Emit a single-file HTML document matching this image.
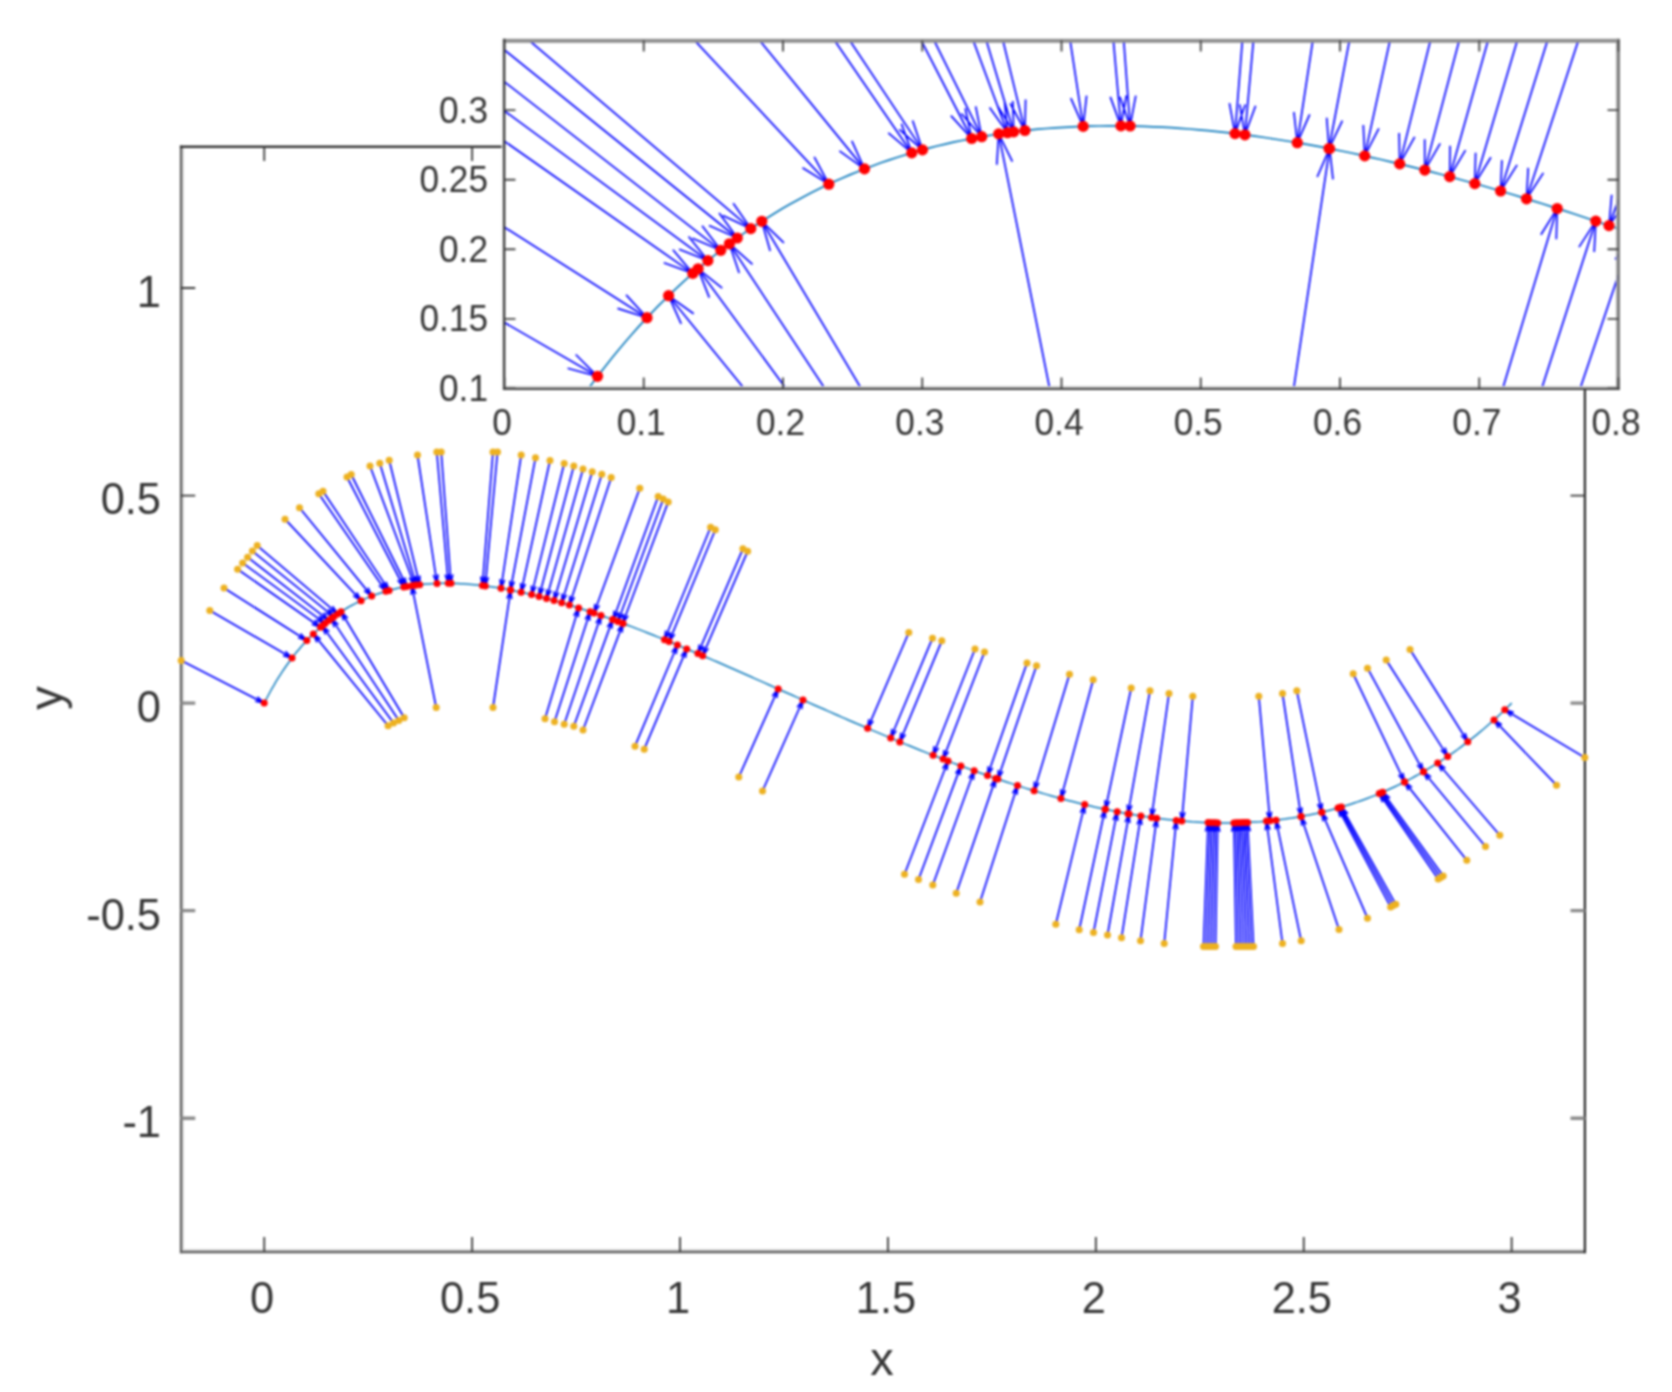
<!DOCTYPE html>
<html lang="en"><head><meta charset="utf-8"><title>Projection of points onto a curve</title>
<style>html,body{margin:0;padding:0;background:#fff}body{width:1672px;height:1392px;overflow:hidden}svg{display:block;filter:blur(0.85px)}text{font-family:'Liberation Sans',Arial,Helvetica,sans-serif;fill:#363636}</style></head><body>
<svg width="1672" height="1392" viewBox="0 0 1672 1392">
<rect width="1672" height="1392" fill="#fff"/>
<defs><clipPath id="cm"><rect x="180.75" y="146.50" width="1404.25" height="1105.00"/></clipPath><clipPath id="ci"><rect x="504.50" y="40.50" width="1114.00" height="348.00"/></clipPath></defs>
<g>
<rect x="182.10" y="147.90" width="1.80" height="1103.10" fill="#d4d4d4"/>
<rect x="182.10" y="1249.00" width="1401.70" height="2.00" fill="#d4d4d4"/>
<rect x="179.90" y="145.60" width="2.20" height="1107.60" fill="#5a5a5a"/>
<rect x="179.90" y="1251.00" width="1406.10" height="2.20" fill="#5a5a5a"/>
<rect x="179.90" y="145.60" width="1406.10" height="2.30" fill="#262626"/>
<rect x="1583.80" y="145.60" width="2.20" height="1107.60" fill="#262626"/>
</g>
<path d="M264.25 1251.50v-14.5M264.25 146.50v14.5M472.15 1251.50v-14.5M472.15 146.50v14.5M680.05 1251.50v-14.5M680.05 146.50v14.5M887.95 1251.50v-14.5M887.95 146.50v14.5M1095.85 1251.50v-14.5M1095.85 146.50v14.5M1303.75 1251.50v-14.5M1303.75 146.50v14.5M1511.65 1251.50v-14.5M1511.65 146.50v14.5M180.75 495.55h14.5M1585.00 495.55h-14.5M180.75 288.00h14.5M1585.00 288.00h-14.5" stroke="#3a3a3a" stroke-width="1.8" fill="none"/>
<path d="M180.75 1118.20h14.5M1585.00 1118.20h-14.5M180.75 910.65h14.5M1585.00 910.65h-14.5M180.75 703.10h14.5M1585.00 703.10h-14.5" stroke="#8a8a8a" stroke-width="3.4" fill="none"/>
<g clip-path="url(#cm)" fill="none">
<path d="M264.2 703.1L265.8 700.0L267.4 697.0L269.0 694.0L270.6 691.0L272.2 688.1L273.9 685.3L275.5 682.4L277.2 679.7L278.9 676.9L280.6 674.3L282.3 671.6L284.1 669.0L285.8 666.5L287.6 664.0L289.4 661.5L291.2 659.1L293.0 656.7L294.8 654.4L296.6 652.1L298.5 649.9L300.3 647.7L302.2 645.5L304.1 643.4L306.0 641.3L308.0 639.3L309.9 637.3L311.8 635.3L313.8 633.4L315.8 631.5L317.8 629.7L319.8 627.9L321.8 626.1L323.8 624.4L325.9 622.7L328.0 621.1L330.0 619.5L332.1 617.9L334.2 616.4L336.3 614.9L338.5 613.4L340.6 612.0L342.8 610.6L344.9 609.3L347.1 608.0L349.3 606.7L351.5 605.5L353.7 604.3L356.0 603.2L358.2 602.0L360.5 600.9L362.8 599.9L365.0 598.9L367.3 597.9L369.6 596.9L372.0 596.0L374.3 595.1L376.7 594.3L379.0 593.5L381.4 592.7L383.8 592.0L386.2 591.2L388.6 590.6L391.0 589.9L393.4 589.3L395.9 588.7L398.3 588.1L400.8 587.6L403.3 587.1L405.8 586.7L408.3 586.2L410.8 585.8L413.3 585.5L415.8 585.1L418.4 584.8L420.9 584.5L423.5 584.3L426.1 584.1L428.7 583.9L431.3 583.7L433.9 583.6L436.5 583.4L439.2 583.4L441.8 583.3L444.5 583.3L447.1 583.3L449.8 583.3L452.5 583.4L455.2 583.4L457.9 583.5L460.6 583.7L463.4 583.8L466.1 584.0L468.9 584.2L471.6 584.4L474.4 584.7L477.2 585.0L480.0 585.3L482.8 585.6L485.6 586.0L488.4 586.4L491.2 586.8L494.1 587.2L496.9 587.6L499.8 588.1L502.6 588.6L505.5 589.1L508.4 589.6L511.3 590.2L514.2 590.8L517.1 591.4L520.1 592.0L523.0 592.6L525.9 593.3L528.9 594.0L531.8 594.7L534.8 595.4L537.8 596.2L540.8 596.9L543.8 597.7L546.8 598.5L549.8 599.3L552.8 600.2L555.9 601.0L558.9 601.9L561.9 602.8L565.0 603.7L568.1 604.6L571.1 605.5L574.2 606.5L577.3 607.5L580.4 608.5L583.5 609.5L586.6 610.5L589.7 611.6L592.9 612.6L596.0 613.7L599.1 614.8L602.3 615.9L605.4 617.0L608.6 618.1L611.8 619.3L615.0 620.4L618.2 621.6L621.3 622.8L624.5 624.0L627.8 625.2L631.0 626.4L634.2 627.6L637.4 628.9L640.7 630.1L643.9 631.4L647.2 632.7L650.4 634.0L653.7 635.3L656.9 636.6L660.2 637.9L663.5 639.3L666.8 640.6L670.1 642.0L673.4 643.3L676.7 644.7L680.0 646.1L683.3 647.5L686.7 648.9L690.0 650.3L693.3 651.7L696.7 653.1L700.0 654.6L703.4 656.0L706.8 657.5L710.1 658.9L713.5 660.4L716.9 661.8L720.3 663.3L723.7 664.8L727.0 666.3L730.4 667.8L733.9 669.3L737.3 670.8L740.7 672.3L744.1 673.8L747.5 675.3L751.0 676.8L754.4 678.4L757.8 679.9L761.3 681.4L764.7 682.9L768.2 684.5L771.6 686.0L775.1 687.6L778.6 689.1L782.1 690.7L785.5 692.2L789.0 693.8L792.5 695.3L796.0 696.9L799.5 698.4L803.0 700.0L806.5 701.5L810.0 703.1L813.5 704.7L817.0 706.2L820.5 707.8L824.1 709.3L827.6 710.9L831.1 712.4L834.6 714.0L838.2 715.5L841.7 717.1L845.3 718.6L848.8 720.2L852.4 721.7L855.9 723.3L859.5 724.8L863.0 726.3L866.6 727.8L870.1 729.4L873.7 730.9L877.3 732.4L880.9 733.9L884.4 735.4L888.0 736.9L891.6 738.4L895.2 739.9L898.8 741.4L902.3 742.9L905.9 744.4L909.5 745.8L913.1 747.3L916.7 748.7L920.3 750.2L923.9 751.6L927.5 753.1L931.1 754.5L934.7 755.9L938.4 757.3L942.0 758.7L945.6 760.1L949.2 761.5L952.8 762.9L956.4 764.2L960.1 765.6L963.7 766.9L967.3 768.3L970.9 769.6L974.5 770.9L978.2 772.2L981.8 773.5L985.4 774.8L989.1 776.1L992.7 777.3L996.3 778.6L1000.0 779.8L1003.6 781.0L1007.2 782.2L1010.9 783.4L1014.5 784.6L1018.1 785.8L1021.8 786.9L1025.4 788.1L1029.0 789.2L1032.7 790.3L1036.3 791.4L1039.9 792.5L1043.6 793.6L1047.2 794.6L1050.9 795.7L1054.5 796.7L1058.1 797.7L1061.8 798.7L1065.4 799.7L1069.1 800.7L1072.7 801.6L1076.3 802.5L1080.0 803.4L1083.6 804.3L1087.2 805.2L1090.9 806.0L1094.5 806.9L1098.1 807.7L1101.8 808.5L1105.4 809.3L1109.0 810.0L1112.7 810.8L1116.3 811.5L1119.9 812.2L1123.5 812.9L1127.2 813.6L1130.8 814.2L1134.4 814.8L1138.0 815.4L1141.7 816.0L1145.3 816.6L1148.9 817.1L1152.5 817.6L1156.1 818.1L1159.7 818.6L1163.3 819.0L1167.0 819.4L1170.6 819.8L1174.2 820.2L1177.8 820.6L1181.4 820.9L1185.0 821.2L1188.6 821.5L1192.2 821.8L1195.8 822.0L1199.3 822.2L1202.9 822.4L1206.5 822.5L1210.1 822.7L1213.7 822.8L1217.3 822.8L1220.8 822.9L1224.4 822.9L1228.0 822.9L1231.5 822.9L1235.1 822.8L1238.7 822.8L1242.2 822.6L1245.8 822.5L1249.3 822.3L1252.9 822.1L1256.4 821.9L1259.9 821.7L1263.5 821.4L1267.0 821.1L1270.5 820.7L1274.1 820.4L1277.6 820.0L1281.1 819.5L1284.6 819.1L1288.1 818.6L1291.7 818.1L1295.2 817.5L1298.7 816.9L1302.1 816.3L1305.6 815.6L1309.1 815.0L1312.6 814.2L1316.1 813.5L1319.6 812.7L1323.0 811.9L1326.5 811.1L1330.0 810.2L1333.4 809.3L1336.9 808.3L1340.3 807.3L1343.8 806.3L1347.2 805.3L1350.6 804.2L1354.1 803.0L1357.5 801.9L1360.9 800.7L1364.3 799.5L1367.7 798.2L1371.1 796.9L1374.5 795.6L1377.9 794.2L1381.3 792.8L1384.7 791.3L1388.1 789.8L1391.4 788.3L1394.8 786.7L1398.1 785.1L1401.5 783.5L1404.8 781.8L1408.2 780.1L1411.5 778.3L1414.8 776.5L1418.2 774.7L1421.5 772.8L1424.8 770.9L1428.1 768.9L1431.4 766.9L1434.7 764.9L1438.0 762.8L1441.3 760.7L1444.5 758.5L1447.8 756.3L1451.1 754.1L1454.3 751.8L1457.6 749.5L1460.8 747.1L1464.0 744.7L1467.3 742.2L1470.5 739.7L1473.7 737.2L1476.9 734.6L1480.1 731.9L1483.3 729.3L1486.5 726.5L1489.6 723.8L1492.8 720.9L1496.0 718.1L1499.1 715.2L1502.3 712.2L1505.4 709.2L1508.5 706.2L1511.7 703.1" stroke="#0a78bb" stroke-width="1.5"/>
<path d="M209.8 610.5L292.0 658.0M283.1 655.6L292.0 658.0L285.5 651.4M224.0 588.0L306.8 640.5M298.0 637.7L306.8 640.5L300.5 633.7M237.6 569.2L320.5 627.3M311.8 624.1L320.5 627.3L314.5 620.2M242.6 562.9L325.0 623.4M316.4 620.1L325.0 623.4L319.2 616.2M247.6 557.2L328.8 620.4M320.3 616.8L328.8 620.4L323.3 613.0M252.4 551.1L333.8 616.7M325.3 613.0L333.8 616.7L328.3 609.3M257.2 545.6L337.8 613.9M329.4 610.0L337.8 613.9L332.5 606.3M285.0 519.2L361.1 600.7M353.2 595.8L361.1 600.7L356.7 592.5M299.5 507.8L371.7 596.1M364.2 590.7L371.7 596.1L368.0 587.7M318.8 493.8L385.9 591.3M378.9 585.3L385.9 591.3L382.8 582.6M323.0 491.2L389.1 590.4M382.1 584.3L389.1 590.4L386.1 581.7M347.0 477.0L403.8 587.0M397.6 580.2L403.8 587.0L401.8 578.0M351.2 474.5L406.8 586.5M400.7 579.6L406.8 586.5L404.9 577.5M370.0 466.0L414.5 585.3M409.1 577.8L414.5 585.3L413.6 576.1M379.8 463.2L416.3 585.1M411.4 577.2L416.3 585.1L416.0 575.9M389.2 460.2L419.7 584.7M415.2 576.6L419.7 584.7L419.9 575.5M417.5 455.0L437.0 583.4M433.3 575.0L437.0 583.4L438.1 574.3M436.8 452.0L448.3 583.3M445.1 574.6L448.3 583.3L449.9 574.2M441.2 452.0L451.0 583.3M448.0 574.6L451.0 583.3L452.8 574.3M493.0 452.0L482.4 585.6M480.7 576.5L482.4 585.6L485.5 576.9M497.5 452.0L485.3 585.9M483.8 576.9L485.3 585.9L488.5 577.3M521.2 455.0L501.0 588.3M500.0 579.1L501.0 588.3L504.7 579.9M535.5 457.8L510.4 590.0M509.7 580.8L510.4 590.0L514.4 581.7M550.0 460.5L521.1 592.2M520.7 583.0L521.1 592.2L525.4 584.0M564.2 463.5L531.6 594.6M531.4 585.4L531.6 594.6L536.0 586.6M573.8 466.0L539.1 596.5M539.0 587.3L539.1 596.5L543.6 588.5M583.0 469.0L546.5 598.4M546.6 589.2L546.5 598.4L551.2 590.5M592.2 471.8L554.0 600.5M554.2 591.3L554.0 600.5L558.8 592.6M601.8 474.2L561.7 602.7M562.1 593.5L561.7 602.7L566.6 594.9M611.2 477.5L569.4 605.0M569.9 595.8L569.4 605.0L574.5 597.3M639.8 488.2L594.0 613.0M594.9 603.8L594.0 613.0L599.4 605.5M658.2 496.5L613.2 619.8M614.1 610.6L613.2 619.8L618.5 612.2M663.2 499.1L617.9 621.5M618.7 612.3L617.9 621.5L623.2 614.0M668.2 501.9L622.7 623.3M623.6 614.1L622.7 623.3L628.1 615.8M710.6 527.2L664.5 639.7M665.7 630.5L664.5 639.7L670.1 632.3M715.3 529.7L669.1 641.6M670.3 632.4L669.1 641.6L674.7 634.2M742.9 548.8L697.9 653.6M699.2 644.5L697.9 653.6L703.6 646.4M747.6 551.3L702.6 655.7M703.9 646.5L702.6 655.7L708.3 648.4M908.8 632.5L867.6 728.3M868.9 719.2L867.6 728.3L873.3 721.0M932.5 638.2L890.7 738.0M891.9 728.9L890.7 738.0L896.3 730.8M941.8 640.8L899.8 741.9M901.0 732.7L899.8 741.9L905.5 734.5M975.0 649.0L933.1 755.3M934.1 746.1L933.1 755.3L938.6 747.9M984.5 652.0L943.1 759.1M944.0 750.0L943.1 759.1L948.5 751.7M1027.0 663.0L987.5 775.5M988.2 766.3L987.5 775.5L992.7 767.9M1036.5 665.8L997.8 779.1M998.4 769.9L997.8 779.1L1002.9 771.4M1069.5 674.2L1034.1 790.8M1034.4 781.5L1034.1 790.8L1038.9 782.9M1093.2 679.8L1060.9 798.5M1060.9 789.3L1060.9 798.5L1065.5 790.5M1131.2 688.0L1105.4 809.3M1104.9 800.1L1105.4 809.3L1109.6 801.1M1150.0 690.8L1128.0 813.7M1127.2 804.5L1128.0 813.7L1131.9 805.4M1169.0 693.5L1151.5 817.5M1150.4 808.3L1151.5 817.5L1155.1 809.0M1192.8 696.2L1181.8 820.9M1180.2 811.9L1181.8 820.9L1185.0 812.3M1258.8 696.2L1270.0 820.8M1266.8 812.1L1270.0 820.8L1271.6 811.7M1282.5 693.5L1301.1 816.5M1297.4 808.0L1301.1 816.5L1302.1 807.3M1296.8 690.8L1321.8 812.2M1317.6 804.0L1321.8 812.2L1322.3 803.0M1353.2 673.8L1404.6 781.9M1398.6 774.9L1404.6 781.9L1402.9 772.9M1367.5 668.2L1423.5 771.7M1417.1 765.0L1423.5 771.7L1421.3 762.7M1386.2 660.0L1447.7 756.4M1440.9 750.2L1447.7 756.4L1445.0 747.6M1410.0 649.5L1467.8 741.8M1461.0 735.5L1467.8 741.8L1465.1 733.0M388.1 725.8L313.3 633.9M320.7 639.3L313.3 633.9L317.0 642.3M393.5 723.1L322.1 625.9M329.3 631.7L322.1 625.9L325.4 634.5M398.8 720.5L331.4 618.4M338.3 624.6L331.4 618.4L334.3 627.2M404.2 717.8L341.1 611.7M347.7 618.2L341.1 611.7L343.6 620.6M436.2 707.5L411.8 585.7M415.9 593.9L411.8 585.7L411.2 594.9M493.0 707.5L510.6 590.1M511.7 599.2L510.6 590.1L506.9 598.5M545.0 718.8L578.6 607.9M578.3 617.1L578.6 607.9L573.7 615.7M554.5 721.8L590.1 611.7M589.6 620.9L590.1 611.7L585.1 619.4M564.2 724.2L601.0 615.4M600.4 624.6L601.0 615.4L595.9 623.1M573.8 726.2L612.6 619.6M611.8 628.7L612.6 619.6L607.3 627.1M583.0 730.0L623.0 623.4M622.1 632.6L623.0 623.4L617.6 630.9M635.0 746.2L677.4 645.0M676.1 654.1L677.4 645.0L671.7 652.3M644.2 749.2L686.7 648.9M685.5 658.0L686.7 648.9L681.1 656.2M738.8 777.0L778.2 688.9M776.7 698.0L778.2 688.9L772.3 696.1M762.5 791.0L803.0 700.0M801.6 709.1L803.0 700.0L797.2 707.2M904.5 874.2L948.0 761.0M947.0 770.2L948.0 761.0L942.5 768.5M918.5 879.5L960.9 765.9M960.0 775.1L960.9 765.9L955.6 773.4M932.8 885.0L974.2 770.8M973.4 780.0L974.2 770.8L968.9 778.3M956.2 893.2L995.7 778.4M995.1 787.6L995.7 778.4L990.6 786.0M980.0 902.0L1017.5 785.6M1017.0 794.8L1017.5 785.6L1012.5 793.3M1055.8 924.2L1084.7 804.6M1084.9 813.8L1084.7 804.6L1080.3 812.7M1079.2 929.8L1105.0 809.2M1105.5 818.4L1105.0 809.2L1100.8 817.4M1093.5 932.5L1117.2 811.7M1117.8 820.9L1117.2 811.7L1113.1 820.0M1107.5 935.0L1129.1 813.9M1129.8 823.1L1129.1 813.9L1125.1 822.2M1121.5 937.8L1140.9 815.9M1141.8 825.0L1140.9 815.9L1137.1 824.3M1140.5 940.8L1156.7 818.2M1157.9 827.3L1156.7 818.2L1153.2 826.7M1164.2 943.5L1176.3 820.4M1177.8 829.5L1176.3 820.4L1173.1 829.1M1203.5 946.5L1208.1 822.6M1210.1 831.6L1208.1 822.6L1205.4 831.4M1206.5 946.5L1210.5 822.7M1212.6 831.7L1210.5 822.7L1207.8 831.5M1209.5 946.5L1212.9 822.7M1215.0 831.7L1212.9 822.7L1210.3 831.6M1212.5 946.5L1215.3 822.8M1217.5 831.8L1215.3 822.8L1212.7 831.7M1215.5 946.5L1217.7 822.9M1219.9 831.8L1217.7 822.9L1215.1 831.7M1236.0 946.5L1233.9 822.9M1236.4 831.7L1233.9 822.9L1231.6 831.8M1238.9 946.5L1236.2 822.8M1238.8 831.7L1236.2 822.8L1234.0 831.8M1241.8 946.5L1238.5 822.8M1241.1 831.6L1238.5 822.8L1236.4 831.7M1244.8 946.5L1240.8 822.7M1243.5 831.5L1240.8 822.7L1238.7 831.7M1247.7 946.5L1243.1 822.6M1245.8 831.4L1243.1 822.6L1241.0 831.6M1250.6 946.5L1245.3 822.5M1248.1 831.3L1245.3 822.5L1243.3 831.5M1253.5 946.5L1247.6 822.4M1250.4 831.2L1247.6 822.4L1245.6 831.4M1282.5 943.5L1266.5 821.1M1270.0 829.6L1266.5 821.1L1265.3 830.3M1301.2 940.8L1276.0 820.2M1280.1 828.4L1276.0 820.2L1275.5 829.4M1339.0 929.5L1301.1 816.5M1306.2 824.2L1301.1 816.5L1301.7 825.7M1367.5 918.2L1321.8 812.2M1327.5 819.4L1321.8 812.2L1323.1 821.3M1390.6 906.9L1338.0 808.0M1344.3 814.7L1338.0 808.0L1340.0 817.0M1393.2 905.6L1339.7 807.5M1346.1 814.2L1339.7 807.5L1341.9 816.5M1395.8 904.3L1341.4 807.0M1347.9 813.6L1341.4 807.0L1343.7 815.9M1438.2 879.1L1379.3 793.6M1386.4 799.6L1379.3 793.6L1382.4 802.3M1440.7 877.6L1381.0 792.9M1388.1 798.8L1381.0 792.9L1384.2 801.5M1443.2 876.1L1382.7 792.2M1389.9 798.0L1382.7 792.2L1386.0 800.8M1466.8 860.2L1404.6 781.9M1412.0 787.4L1404.6 781.9L1408.2 790.4M1485.5 846.5L1423.5 771.7M1431.0 777.0L1423.5 771.7L1427.3 780.1M1499.8 835.2L1437.7 763.0M1445.3 768.2L1437.7 763.0L1441.7 771.3M181.2 660.5L264.2 703.1M255.2 701.2L264.2 703.1L257.4 696.9M1556.5 785.2L1494.0 719.9M1501.9 724.7L1494.0 719.9L1498.4 728.0M1584.8 757.5L1504.8 709.8M1513.7 712.4L1504.8 709.8L1511.2 716.4" stroke="#0000ff" stroke-width="1.7"/>
</g>
<g fill="#edb120"><circle cx="209.8" cy="610.5" r="3.5"/><circle cx="224.0" cy="588.0" r="3.5"/><circle cx="237.6" cy="569.2" r="3.5"/><circle cx="242.6" cy="562.9" r="3.5"/><circle cx="247.6" cy="557.2" r="3.5"/><circle cx="252.4" cy="551.1" r="3.5"/><circle cx="257.2" cy="545.6" r="3.5"/><circle cx="285.0" cy="519.2" r="3.5"/><circle cx="299.5" cy="507.8" r="3.5"/><circle cx="318.8" cy="493.8" r="3.5"/><circle cx="323.0" cy="491.2" r="3.5"/><circle cx="347.0" cy="477.0" r="3.5"/><circle cx="351.2" cy="474.5" r="3.5"/><circle cx="370.0" cy="466.0" r="3.5"/><circle cx="379.8" cy="463.2" r="3.5"/><circle cx="389.2" cy="460.2" r="3.5"/><circle cx="417.5" cy="455.0" r="3.5"/><circle cx="436.8" cy="452.0" r="3.5"/><circle cx="441.2" cy="452.0" r="3.5"/><circle cx="493.0" cy="452.0" r="3.5"/><circle cx="497.5" cy="452.0" r="3.5"/><circle cx="521.2" cy="455.0" r="3.5"/><circle cx="535.5" cy="457.8" r="3.5"/><circle cx="550.0" cy="460.5" r="3.5"/><circle cx="564.2" cy="463.5" r="3.5"/><circle cx="573.8" cy="466.0" r="3.5"/><circle cx="583.0" cy="469.0" r="3.5"/><circle cx="592.2" cy="471.8" r="3.5"/><circle cx="601.8" cy="474.2" r="3.5"/><circle cx="611.2" cy="477.5" r="3.5"/><circle cx="639.8" cy="488.2" r="3.5"/><circle cx="658.2" cy="496.5" r="3.5"/><circle cx="663.2" cy="499.1" r="3.5"/><circle cx="668.2" cy="501.9" r="3.5"/><circle cx="710.6" cy="527.2" r="3.5"/><circle cx="715.3" cy="529.7" r="3.5"/><circle cx="742.9" cy="548.8" r="3.5"/><circle cx="747.6" cy="551.3" r="3.5"/><circle cx="908.8" cy="632.5" r="3.5"/><circle cx="932.5" cy="638.2" r="3.5"/><circle cx="941.8" cy="640.8" r="3.5"/><circle cx="975.0" cy="649.0" r="3.5"/><circle cx="984.5" cy="652.0" r="3.5"/><circle cx="1027.0" cy="663.0" r="3.5"/><circle cx="1036.5" cy="665.8" r="3.5"/><circle cx="1069.5" cy="674.2" r="3.5"/><circle cx="1093.2" cy="679.8" r="3.5"/><circle cx="1131.2" cy="688.0" r="3.5"/><circle cx="1150.0" cy="690.8" r="3.5"/><circle cx="1169.0" cy="693.5" r="3.5"/><circle cx="1192.8" cy="696.2" r="3.5"/><circle cx="1258.8" cy="696.2" r="3.5"/><circle cx="1282.5" cy="693.5" r="3.5"/><circle cx="1296.8" cy="690.8" r="3.5"/><circle cx="1353.2" cy="673.8" r="3.5"/><circle cx="1367.5" cy="668.2" r="3.5"/><circle cx="1386.2" cy="660.0" r="3.5"/><circle cx="1410.0" cy="649.5" r="3.5"/><circle cx="388.1" cy="725.8" r="3.5"/><circle cx="393.5" cy="723.1" r="3.5"/><circle cx="398.8" cy="720.5" r="3.5"/><circle cx="404.2" cy="717.8" r="3.5"/><circle cx="436.2" cy="707.5" r="3.5"/><circle cx="493.0" cy="707.5" r="3.5"/><circle cx="545.0" cy="718.8" r="3.5"/><circle cx="554.5" cy="721.8" r="3.5"/><circle cx="564.2" cy="724.2" r="3.5"/><circle cx="573.8" cy="726.2" r="3.5"/><circle cx="583.0" cy="730.0" r="3.5"/><circle cx="635.0" cy="746.2" r="3.5"/><circle cx="644.2" cy="749.2" r="3.5"/><circle cx="738.8" cy="777.0" r="3.5"/><circle cx="762.5" cy="791.0" r="3.5"/><circle cx="904.5" cy="874.2" r="3.5"/><circle cx="918.5" cy="879.5" r="3.5"/><circle cx="932.8" cy="885.0" r="3.5"/><circle cx="956.2" cy="893.2" r="3.5"/><circle cx="980.0" cy="902.0" r="3.5"/><circle cx="1055.8" cy="924.2" r="3.5"/><circle cx="1079.2" cy="929.8" r="3.5"/><circle cx="1093.5" cy="932.5" r="3.5"/><circle cx="1107.5" cy="935.0" r="3.5"/><circle cx="1121.5" cy="937.8" r="3.5"/><circle cx="1140.5" cy="940.8" r="3.5"/><circle cx="1164.2" cy="943.5" r="3.5"/><circle cx="1203.5" cy="946.5" r="3.5"/><circle cx="1206.5" cy="946.5" r="3.5"/><circle cx="1209.5" cy="946.5" r="3.5"/><circle cx="1212.5" cy="946.5" r="3.5"/><circle cx="1215.5" cy="946.5" r="3.5"/><circle cx="1236.0" cy="946.5" r="3.5"/><circle cx="1238.9" cy="946.5" r="3.5"/><circle cx="1241.8" cy="946.5" r="3.5"/><circle cx="1244.8" cy="946.5" r="3.5"/><circle cx="1247.7" cy="946.5" r="3.5"/><circle cx="1250.6" cy="946.5" r="3.5"/><circle cx="1253.5" cy="946.5" r="3.5"/><circle cx="1282.5" cy="943.5" r="3.5"/><circle cx="1301.2" cy="940.8" r="3.5"/><circle cx="1339.0" cy="929.5" r="3.5"/><circle cx="1367.5" cy="918.2" r="3.5"/><circle cx="1390.6" cy="906.9" r="3.5"/><circle cx="1393.2" cy="905.6" r="3.5"/><circle cx="1395.8" cy="904.3" r="3.5"/><circle cx="1438.2" cy="879.1" r="3.5"/><circle cx="1440.7" cy="877.6" r="3.5"/><circle cx="1443.2" cy="876.1" r="3.5"/><circle cx="1466.8" cy="860.2" r="3.5"/><circle cx="1485.5" cy="846.5" r="3.5"/><circle cx="1499.8" cy="835.2" r="3.5"/><circle cx="181.2" cy="660.5" r="3.5"/><circle cx="1556.5" cy="785.2" r="3.5"/><circle cx="1584.8" cy="757.5" r="3.5"/></g>
<g fill="#ff0000"><circle cx="292.0" cy="658.0" r="3.5"/><circle cx="306.8" cy="640.5" r="3.5"/><circle cx="320.5" cy="627.3" r="3.5"/><circle cx="325.0" cy="623.4" r="3.5"/><circle cx="328.8" cy="620.4" r="3.5"/><circle cx="333.8" cy="616.7" r="3.5"/><circle cx="337.8" cy="613.9" r="3.5"/><circle cx="361.1" cy="600.7" r="3.5"/><circle cx="371.7" cy="596.1" r="3.5"/><circle cx="385.9" cy="591.3" r="3.5"/><circle cx="389.1" cy="590.4" r="3.5"/><circle cx="403.8" cy="587.0" r="3.5"/><circle cx="406.8" cy="586.5" r="3.5"/><circle cx="414.5" cy="585.3" r="3.5"/><circle cx="416.3" cy="585.1" r="3.5"/><circle cx="419.7" cy="584.7" r="3.5"/><circle cx="437.0" cy="583.4" r="3.5"/><circle cx="448.3" cy="583.3" r="3.5"/><circle cx="451.0" cy="583.3" r="3.5"/><circle cx="482.4" cy="585.6" r="3.5"/><circle cx="485.3" cy="585.9" r="3.5"/><circle cx="501.0" cy="588.3" r="3.5"/><circle cx="510.4" cy="590.0" r="3.5"/><circle cx="521.1" cy="592.2" r="3.5"/><circle cx="531.6" cy="594.6" r="3.5"/><circle cx="539.1" cy="596.5" r="3.5"/><circle cx="546.5" cy="598.4" r="3.5"/><circle cx="554.0" cy="600.5" r="3.5"/><circle cx="561.7" cy="602.7" r="3.5"/><circle cx="569.4" cy="605.0" r="3.5"/><circle cx="594.0" cy="613.0" r="3.5"/><circle cx="613.2" cy="619.8" r="3.5"/><circle cx="617.9" cy="621.5" r="3.5"/><circle cx="622.7" cy="623.3" r="3.5"/><circle cx="664.5" cy="639.7" r="3.5"/><circle cx="669.1" cy="641.6" r="3.5"/><circle cx="697.9" cy="653.6" r="3.5"/><circle cx="702.6" cy="655.7" r="3.5"/><circle cx="867.6" cy="728.3" r="3.5"/><circle cx="890.7" cy="738.0" r="3.5"/><circle cx="899.8" cy="741.9" r="3.5"/><circle cx="933.1" cy="755.3" r="3.5"/><circle cx="943.1" cy="759.1" r="3.5"/><circle cx="987.5" cy="775.5" r="3.5"/><circle cx="997.8" cy="779.1" r="3.5"/><circle cx="1034.1" cy="790.8" r="3.5"/><circle cx="1060.9" cy="798.5" r="3.5"/><circle cx="1105.4" cy="809.3" r="3.5"/><circle cx="1128.0" cy="813.7" r="3.5"/><circle cx="1151.5" cy="817.5" r="3.5"/><circle cx="1181.8" cy="820.9" r="3.5"/><circle cx="1270.0" cy="820.8" r="3.5"/><circle cx="1301.1" cy="816.5" r="3.5"/><circle cx="1321.8" cy="812.2" r="3.5"/><circle cx="1404.6" cy="781.9" r="3.5"/><circle cx="1423.5" cy="771.7" r="3.5"/><circle cx="1447.7" cy="756.4" r="3.5"/><circle cx="1467.8" cy="741.8" r="3.5"/><circle cx="313.3" cy="633.9" r="3.5"/><circle cx="322.1" cy="625.9" r="3.5"/><circle cx="331.4" cy="618.4" r="3.5"/><circle cx="341.1" cy="611.7" r="3.5"/><circle cx="411.8" cy="585.7" r="3.5"/><circle cx="510.6" cy="590.1" r="3.5"/><circle cx="578.6" cy="607.9" r="3.5"/><circle cx="590.1" cy="611.7" r="3.5"/><circle cx="601.0" cy="615.4" r="3.5"/><circle cx="612.6" cy="619.6" r="3.5"/><circle cx="623.0" cy="623.4" r="3.5"/><circle cx="677.4" cy="645.0" r="3.5"/><circle cx="686.7" cy="648.9" r="3.5"/><circle cx="778.2" cy="688.9" r="3.5"/><circle cx="803.0" cy="700.0" r="3.5"/><circle cx="948.0" cy="761.0" r="3.5"/><circle cx="960.9" cy="765.9" r="3.5"/><circle cx="974.2" cy="770.8" r="3.5"/><circle cx="995.7" cy="778.4" r="3.5"/><circle cx="1017.5" cy="785.6" r="3.5"/><circle cx="1084.7" cy="804.6" r="3.5"/><circle cx="1105.0" cy="809.2" r="3.5"/><circle cx="1117.2" cy="811.7" r="3.5"/><circle cx="1129.1" cy="813.9" r="3.5"/><circle cx="1140.9" cy="815.9" r="3.5"/><circle cx="1156.7" cy="818.2" r="3.5"/><circle cx="1176.3" cy="820.4" r="3.5"/><circle cx="1208.1" cy="822.6" r="3.5"/><circle cx="1210.5" cy="822.7" r="3.5"/><circle cx="1212.9" cy="822.7" r="3.5"/><circle cx="1215.3" cy="822.8" r="3.5"/><circle cx="1217.7" cy="822.9" r="3.5"/><circle cx="1233.9" cy="822.9" r="3.5"/><circle cx="1236.2" cy="822.8" r="3.5"/><circle cx="1238.5" cy="822.8" r="3.5"/><circle cx="1240.8" cy="822.7" r="3.5"/><circle cx="1243.1" cy="822.6" r="3.5"/><circle cx="1245.3" cy="822.5" r="3.5"/><circle cx="1247.6" cy="822.4" r="3.5"/><circle cx="1266.5" cy="821.1" r="3.5"/><circle cx="1276.0" cy="820.2" r="3.5"/><circle cx="1301.1" cy="816.5" r="3.5"/><circle cx="1321.8" cy="812.2" r="3.5"/><circle cx="1338.0" cy="808.0" r="3.5"/><circle cx="1339.7" cy="807.5" r="3.5"/><circle cx="1341.4" cy="807.0" r="3.5"/><circle cx="1379.3" cy="793.6" r="3.5"/><circle cx="1381.0" cy="792.9" r="3.5"/><circle cx="1382.7" cy="792.2" r="3.5"/><circle cx="1404.6" cy="781.9" r="3.5"/><circle cx="1423.5" cy="771.7" r="3.5"/><circle cx="1437.7" cy="763.0" r="3.5"/><circle cx="264.2" cy="703.1" r="3.5"/><circle cx="1494.0" cy="719.9" r="3.5"/><circle cx="1504.8" cy="709.8" r="3.5"/></g>
<text transform="translate(262.2 1313.3) scale(0.965 1)" text-anchor="middle" font-size="45.0">0</text>
<text transform="translate(470.1 1313.3) scale(0.965 1)" text-anchor="middle" font-size="45.0">0.5</text>
<text transform="translate(678.0 1313.3) scale(0.965 1)" text-anchor="middle" font-size="45.0">1</text>
<text transform="translate(886.0 1313.3) scale(0.965 1)" text-anchor="middle" font-size="45.0">1.5</text>
<text transform="translate(1093.8 1313.3) scale(0.965 1)" text-anchor="middle" font-size="45.0">2</text>
<text transform="translate(1301.8 1313.3) scale(0.965 1)" text-anchor="middle" font-size="45.0">2.5</text>
<text transform="translate(1509.7 1313.3) scale(0.965 1)" text-anchor="middle" font-size="45.0">3</text>
<text transform="translate(161.0 1137.0) scale(0.965 1)" text-anchor="end" font-size="45.0">-1</text>
<text transform="translate(161.0 929.5) scale(0.965 1)" text-anchor="end" font-size="45.0">-0.5</text>
<text transform="translate(161.0 721.9) scale(0.965 1)" text-anchor="end" font-size="45.0">0</text>
<text transform="translate(161.0 514.4) scale(0.965 1)" text-anchor="end" font-size="45.0">0.5</text>
<text transform="translate(161.0 306.8) scale(0.965 1)" text-anchor="end" font-size="45.0">1</text>
<text x="882" y="1375" font-size="47" text-anchor="middle">x</text>
<text transform="translate(61.5 698) rotate(-90)" font-size="47" text-anchor="middle">y</text>
<rect x="504.50" y="40.50" width="1114.00" height="348.00" fill="#fff"/>
<g clip-path="url(#ci)" fill="none">
<path d="M504.5 527.7L509.7 517.3L515.0 507.1L520.4 497.1L525.8 487.2L531.3 477.4L536.8 467.9L542.3 458.4L547.9 449.1L553.6 440.0L559.3 431.0L565.1 422.2L570.9 413.5L576.7 404.9L582.6 396.5L588.6 388.3L594.6 380.2L600.7 372.2L606.8 364.4L612.9 356.7L619.1 349.2L625.4 341.8L631.7 334.5L638.0 327.4L644.4 320.4L650.9 313.6L657.3 306.9L663.9 300.3L670.5 293.9L677.1 287.6L683.8 281.4L690.5 275.4L697.3 269.5L704.1 263.8L710.9 258.1L717.9 252.6L724.8 247.2L731.8 242.0L738.8 236.9L745.9 231.9L753.1 227.0L760.2 222.3L767.5 217.7L774.7 213.2L782.0 208.8L789.4 204.6L796.8 200.4L804.2 196.4L811.7 192.6L819.2 188.8L826.8 185.1L834.4 181.6L842.0 178.2L849.7 174.9L857.5 171.7L865.3 168.6L873.1 165.7L880.9 162.8L888.8 160.1L896.8 157.5L904.8 155.0L912.8 152.6L920.8 150.3L928.9 148.1L937.1 146.0L945.3 144.1L953.5 142.2L961.8 140.5L970.1 138.8L978.4 137.3L986.8 135.8L995.2 134.5L1003.6 133.2L1012.1 132.1L1020.7 131.0L1029.2 130.1L1037.8 129.2L1046.5 128.5L1055.2 127.8L1063.9 127.3L1072.6 126.8L1081.4 126.4L1090.3 126.2L1099.1 126.0L1108.0 125.9L1117.0 125.9L1125.9 126.0L1134.9 126.1L1144.0 126.4L1153.1 126.8L1162.2 127.2L1171.3 127.7L1180.5 128.3L1189.7 129.0L1199.0 129.8L1208.2 130.7L1217.5 131.6L1226.9 132.6L1236.3 133.7L1245.7 134.9L1255.1 136.2L1264.6 137.5L1274.1 139.0L1283.7 140.5L1293.3 142.0L1302.9 143.7L1312.5 145.4L1322.2 147.2L1331.9 149.1L1341.6 151.0L1351.4 153.0L1361.2 155.1L1371.0 157.3L1380.9 159.5L1390.8 161.8L1400.7 164.1L1410.6 166.6L1420.6 169.1L1430.6 171.6L1440.6 174.2L1450.7 176.9L1460.8 179.7L1470.9 182.5L1481.1 185.3L1491.2 188.3L1501.4 191.3L1511.7 194.3L1521.9 197.4L1532.2 200.6L1542.5 203.8L1552.9 207.1L1563.3 210.4L1573.7 213.8L1584.1 217.2L1594.5 220.7L1605.0 224.2L1615.5 227.8L1626.0 231.5L1636.6 235.2L1647.2 238.9L1657.8 242.7L1668.4 246.5L1679.0 250.4L1689.7 254.3L1700.4 258.3L1711.1 262.3L1721.9 266.4L1732.6 270.5L1743.4 274.6L1754.3 278.8L1765.1 283.0L1776.0 287.3L1786.8 291.6L1797.8 295.9L1808.7 300.3L1819.6 304.7L1830.6 309.1L1841.6 313.6L1852.6 318.1L1863.7 322.7L1874.7 327.3L1885.8 331.9L1896.9 336.5L1908.0 341.2L1919.2 345.9L1930.3 350.6L1941.5 355.3L1952.7 360.1L1963.9 364.9L1975.2 369.8L1986.4 374.6L1997.7 379.5L2009.0 384.4L2020.3 389.3L2031.7 394.3L2043.0 399.2L2054.4 404.2L2065.8 409.2L2077.2 414.2L2088.6 419.3L2100.0 424.3L2111.5 429.4L2123.0 434.5L2134.5 439.6L2146.0 444.7L2157.5 449.8L2169.0 455.0L2180.6 460.1L2192.2 465.3L2203.7 470.5L2215.3 475.6L2227.0 480.8L2238.6 486.0L2250.2 491.2L2261.9 496.4L2273.6 501.6L2285.3 506.8L2297.0 512.0L2308.7 517.3L2320.4 522.5L2332.2 527.7L2343.9 532.9L2355.7 538.1L2367.5 543.4L2379.3 548.6L2391.1 553.8L2402.9 559.0L2414.7 564.2L2426.6 569.4L2438.4 574.6L2450.3 579.8L2462.1 584.9L2474.0 590.1L2485.9 595.3L2497.8 600.4L2509.8 605.6L2521.7 610.7L2533.6 615.8L2545.6 620.9L2557.5 626.0L2569.5 631.1L2581.5 636.1L2593.5 641.2L2605.4 646.2L2617.4 651.2L2629.5 656.2L2641.5 661.1L2653.5 666.1L2665.5 671.0L2677.6 675.9L2689.6 680.8L2701.7 685.6L2713.7 690.5L2725.8 695.3L2737.9 700.1L2750.0 704.8L2762.1 709.5L2774.2 714.2L2786.3 718.9L2798.4 723.5L2810.5 728.1L2822.6 732.7L2834.7 737.3L2846.8 741.8L2859.0 746.3L2871.1 750.7L2883.3 755.1L2895.4 759.5L2907.5 763.8L2919.7 768.1L2931.9 772.4L2944.0 776.6L2956.2 780.8L2968.3 784.9L2980.5 789.0L2992.7 793.1L3004.9 797.1L3017.0 801.1L3029.2 805.0L3041.4 808.9L3053.6 812.7L3065.7 816.5L3077.9 820.2L3090.1 823.9L3102.3 827.6L3114.5 831.2L3126.7 834.7L3138.8 838.2L3151.0 841.6L3163.2 845.0L3175.4 848.3L3187.6 851.6L3199.8 854.8L3211.9 858.0L3224.1 861.1L3236.3 864.1L3248.5 867.1L3260.6 870.1L3272.8 872.9L3285.0 875.7L3297.2 878.5L3309.3 881.2L3321.5 883.8L3333.6 886.3L3345.8 888.8L3358.0 891.3L3370.1 893.6L3382.3 895.9L3394.4 898.1L3406.5 900.3L3418.7 902.4L3430.8 904.4L3442.9 906.3L3455.0 908.2L3467.2 910.0L3479.3 911.7L3491.4 913.4L3503.5 914.9L3515.6 916.4L3527.6 917.9L3539.7 919.2L3551.8 920.5L3563.9 921.7L3575.9 922.8L3588.0 923.8L3600.0 924.7L3612.0 925.6L3624.1 926.4L3636.1 927.1L3648.1 927.7L3660.1 928.2L3672.1 928.6L3684.1 929.0L3696.1 929.3L3708.0 929.4L3720.0 929.5L3732.0 929.5L3743.9 929.4L3755.8 929.2L3767.7 929.0L3779.7 928.6L3791.6 928.1L3803.5 927.6L3815.3 926.9L3827.2 926.2L3839.1 925.3L3850.9 924.4L3862.7 923.3L3874.6 922.2L3886.4 920.9L3898.2 919.6L3909.9 918.1L3921.7 916.6L3933.5 914.9L3945.2 913.2L3957.0 911.3L3968.7 909.4L3980.4 907.3L3992.1 905.1L4003.8 902.8L4015.4 900.4L4027.1 897.9L4038.7 895.3L4050.3 892.6L4061.9 889.7L4073.5 886.8L4085.1 883.7L4096.7 880.5L4108.2 877.2L4119.7 873.8L4131.3 870.3L4142.8 866.6L4154.2 862.8L4165.7 859.0L4177.1 855.0L4188.6 850.8L4200.0 846.6L4211.4 842.2L4222.8 837.7L4234.1 833.1L4245.5 828.4L4256.8 823.5L4268.1 818.5L4279.4 813.4L4290.6 808.2L4301.9 802.8L4313.1 797.3L4324.3 791.6L4335.5 785.9L4346.7 780.0L4357.8 774.0L4368.9 767.8L4380.1 761.5L4391.1 755.1L4402.2 748.5L4413.3 741.8L4424.3 735.0L4435.3 728.0L4446.3 720.9L4457.2 713.6L4468.2 706.2L4479.1 698.7L4490.0 691.0L4500.8 683.2L4511.7 675.2L4522.5 667.1L4533.3 658.9L4544.1 650.5L4554.9 641.9L4565.6 633.2L4576.3 624.4L4587.0 615.4L4597.6 606.3L4608.3 597.0L4618.9 587.5L4629.5 578.0L4640.0 568.2L4650.6 558.3L4661.1 548.3L4671.5 538.1L4682.0 527.7" stroke="#0a78bb" stroke-width="1.7"/>
<path d="M322.0 217.2L597.5 376.3M567.6 368.3L597.5 376.3L575.7 354.5M369.7 141.7L647.0 317.7M617.5 308.4L647.0 317.7L626.1 294.9M415.3 78.7L692.8 273.4M663.8 262.8L692.8 273.4L672.9 249.7M432.0 57.6L707.9 260.6M679.1 249.3L707.9 260.6L688.6 236.5M448.7 38.4L720.8 250.3M692.3 238.3L720.8 250.3L702.1 225.7M464.8 18.0L737.3 238.0M709.0 225.5L737.3 238.0L719.1 213.0M480.9 -0.5L750.8 228.6M722.8 215.4L750.8 228.6L733.2 203.2M574.0 -88.8L828.8 184.2M802.5 167.8L828.8 184.2L814.2 156.9M622.6 -127.4L864.5 168.9M839.4 150.9L864.5 168.9L851.8 140.8M687.0 -174.3L911.8 152.9M888.3 132.8L911.8 152.9L901.5 123.7M701.3 -182.7L922.5 149.9M899.3 129.4L922.5 149.9L912.6 120.6M781.6 -230.5L971.7 138.5M950.9 115.6L971.7 138.5L965.2 108.3M795.9 -238.9L981.7 136.7M961.3 113.5L981.7 136.7L975.7 106.4M858.7 -267.4L1007.5 132.7M989.6 107.5L1007.5 132.7L1004.6 101.9M891.3 -276.6L1013.7 131.9M997.4 105.6L1013.7 131.9L1012.8 101.0M923.1 -286.7L1024.9 130.5M1010.1 103.4L1024.9 130.5L1025.6 99.6M1017.7 -304.3L1083.2 126.4M1070.8 98.1L1083.2 126.4L1086.6 95.7M1082.2 -314.3L1120.9 125.9M1110.3 96.9L1120.9 125.9L1126.3 95.5M1097.3 -314.3L1130.1 126.0M1119.9 96.9L1130.1 126.0L1135.8 95.7M1270.6 -314.3L1235.0 133.6M1229.4 103.2L1235.0 133.6L1245.3 104.5M1285.6 -314.3L1244.9 134.8M1239.7 104.4L1244.9 134.8L1255.6 105.8M1365.2 -304.3L1297.3 142.7M1293.9 112.0L1297.3 142.7L1309.7 114.4M1412.9 -295.1L1329.0 148.5M1326.7 117.7L1329.0 148.5L1342.4 120.7M1461.5 -285.8L1364.7 155.9M1363.3 125.0L1364.7 155.9L1378.9 128.4M1509.2 -275.8L1399.7 163.9M1399.1 133.0L1399.7 163.9L1414.7 136.9M1541.0 -267.4L1424.8 170.1M1424.7 139.2L1424.8 170.1L1440.2 143.3M1572.0 -257.3L1449.7 176.6M1450.1 145.7L1449.7 176.6L1465.5 150.1M1603.0 -248.1L1474.8 183.6M1475.6 152.7L1474.8 183.6L1490.9 157.2M1634.8 -239.7L1500.6 191.0M1501.9 160.1L1500.6 191.0L1517.1 164.9M1666.6 -228.8L1526.5 198.8M1528.2 167.9L1526.5 198.8L1543.4 172.9M1762.0 -192.8L1609.0 225.6M1611.7 194.8L1609.0 225.6L1626.8 200.3M1823.8 -165.1L1673.3 248.3M1676.0 217.5L1673.3 248.3L1691.0 223.0M1840.6 -156.4L1688.8 254.0M1691.7 223.2L1688.8 254.0L1706.7 228.8M1857.3 -147.0L1704.9 260.0M1707.9 229.2L1704.9 260.0L1722.9 234.8M1999.3 -62.2L1844.9 315.0M1848.8 284.3L1844.9 315.0L1863.6 290.4M2015.1 -53.8L1860.3 321.3M1864.3 290.7L1860.3 321.3L1879.1 296.8M2107.5 10.3L1956.8 361.9M1961.2 331.3L1956.8 361.9L1975.9 337.6M2123.2 18.7L1972.5 368.6M1976.9 338.0L1972.5 368.6L1991.6 344.4M919.3 603.8L668.6 295.7M693.7 313.8L668.6 295.7L681.2 323.9M937.4 594.8L698.1 268.8M722.2 288.2L698.1 268.8L709.3 297.6M955.1 586.0L729.4 243.8M752.5 264.3L729.4 243.8L739.2 273.1M973.2 577.0L761.8 221.3M783.9 242.8L761.8 221.3L770.2 251.0M1080.5 542.5L998.7 133.9M1012.4 161.6L998.7 133.9L996.8 164.8M1270.6 542.5L1329.6 148.6M1333.0 179.3L1329.6 148.6L1317.2 177.0M1444.7 580.2L1557.2 208.5M1556.3 239.3L1557.2 208.5L1540.9 234.7M1476.5 590.2L1595.8 221.1M1594.2 252.0L1595.8 221.1L1579.0 247.1M1509.2 598.6L1632.4 233.7M1630.4 264.5L1632.4 233.7L1615.2 259.4M1541.0 605.3L1671.1 247.5M1668.5 278.3L1671.1 247.5L1653.4 272.8M1572.0 617.9L1706.0 260.4M1703.0 291.1L1706.0 260.4L1688.0 285.5M1746.1 672.4L1888.0 332.8M1883.9 363.4L1888.0 332.8L1869.1 357.2M1777.1 682.5L1919.4 346.0M1915.1 376.6L1919.4 346.0L1900.4 370.3M226.5 384.8L504.5 527.7M474.3 521.2L504.5 527.7L481.6 506.9" stroke="#0000ff" stroke-width="1.7"/>
</g>
<g fill="#ff0000"><circle cx="597.5" cy="376.3" r="5.6"/><circle cx="647.0" cy="317.7" r="5.6"/><circle cx="692.8" cy="273.4" r="5.6"/><circle cx="707.9" cy="260.6" r="5.6"/><circle cx="720.8" cy="250.3" r="5.6"/><circle cx="737.3" cy="238.0" r="5.6"/><circle cx="750.8" cy="228.6" r="5.6"/><circle cx="828.8" cy="184.2" r="5.6"/><circle cx="864.5" cy="168.9" r="5.6"/><circle cx="911.8" cy="152.9" r="5.6"/><circle cx="922.5" cy="149.9" r="5.6"/><circle cx="971.7" cy="138.5" r="5.6"/><circle cx="981.7" cy="136.7" r="5.6"/><circle cx="1007.5" cy="132.7" r="5.6"/><circle cx="1013.7" cy="131.9" r="5.6"/><circle cx="1024.9" cy="130.5" r="5.6"/><circle cx="1083.2" cy="126.4" r="5.6"/><circle cx="1120.9" cy="125.9" r="5.6"/><circle cx="1130.1" cy="126.0" r="5.6"/><circle cx="1235.0" cy="133.6" r="5.6"/><circle cx="1244.9" cy="134.8" r="5.6"/><circle cx="1297.3" cy="142.7" r="5.6"/><circle cx="1329.0" cy="148.5" r="5.6"/><circle cx="1364.7" cy="155.9" r="5.6"/><circle cx="1399.7" cy="163.9" r="5.6"/><circle cx="1424.8" cy="170.1" r="5.6"/><circle cx="1449.7" cy="176.6" r="5.6"/><circle cx="1474.8" cy="183.6" r="5.6"/><circle cx="1500.6" cy="191.0" r="5.6"/><circle cx="1526.5" cy="198.8" r="5.6"/><circle cx="1609.0" cy="225.6" r="5.6"/><circle cx="668.6" cy="295.7" r="5.6"/><circle cx="698.1" cy="268.8" r="5.6"/><circle cx="729.4" cy="243.8" r="5.6"/><circle cx="761.8" cy="221.3" r="5.6"/><circle cx="998.7" cy="133.9" r="5.6"/><circle cx="1329.6" cy="148.6" r="5.6"/><circle cx="1557.2" cy="208.5" r="5.6"/><circle cx="1595.8" cy="221.1" r="5.6"/></g>
<g>
<rect x="501.60" y="38.80" width="1.50" height="351.20" fill="#ebebeb"/>
<rect x="503.10" y="386.00" width="1114.70" height="2.00" fill="#c8c8c8"/>
<rect x="1616.00" y="38.80" width="1.80" height="349.20" fill="#a4a4a4"/>
<rect x="503.10" y="38.80" width="1116.70" height="4.00" fill="#909090"/>
<rect x="1617.80" y="38.80" width="2.00" height="351.20" fill="#666666"/>
<rect x="503.10" y="388.00" width="1116.70" height="2.00" fill="#444444"/>
<rect x="503.10" y="38.80" width="2.20" height="351.20" fill="#333333"/>
</g>
<path d="M504.50 388.50v-11.0M504.50 40.50v11.0M643.75 388.50v-11.0M643.75 40.50v11.0M783.00 388.50v-11.0M783.00 40.50v11.0M922.25 388.50v-11.0M922.25 40.50v11.0M1061.50 388.50v-11.0M1061.50 40.50v11.0M1200.75 388.50v-11.0M1200.75 40.50v11.0M1340.00 388.50v-11.0M1340.00 40.50v11.0M1479.25 388.50v-11.0M1479.25 40.50v11.0M1618.50 388.50v-11.0M1618.50 40.50v11.0M504.50 388.50h11.0M1618.50 388.50h-11.0M504.50 318.90h11.0M1618.50 318.90h-11.0M504.50 249.30h11.0M1618.50 249.30h-11.0M504.50 179.70h11.0M1618.50 179.70h-11.0M504.50 110.10h11.0M1618.50 110.10h-11.0" stroke="#4a4a4a" stroke-width="1.9" fill="none"/>
<text transform="translate(502.0 435.3) scale(0.965 1)" text-anchor="middle" font-size="36.5">0</text>
<text transform="translate(641.2 435.3) scale(0.965 1)" text-anchor="middle" font-size="36.5">0.1</text>
<text transform="translate(780.5 435.3) scale(0.965 1)" text-anchor="middle" font-size="36.5">0.2</text>
<text transform="translate(919.8 435.3) scale(0.965 1)" text-anchor="middle" font-size="36.5">0.3</text>
<text transform="translate(1059.0 435.3) scale(0.965 1)" text-anchor="middle" font-size="36.5">0.4</text>
<text transform="translate(1198.2 435.3) scale(0.965 1)" text-anchor="middle" font-size="36.5">0.5</text>
<text transform="translate(1337.5 435.3) scale(0.965 1)" text-anchor="middle" font-size="36.5">0.6</text>
<text transform="translate(1476.8 435.3) scale(0.965 1)" text-anchor="middle" font-size="36.5">0.7</text>
<text transform="translate(1616.0 435.3) scale(0.965 1)" text-anchor="middle" font-size="36.5">0.8</text>
<text transform="translate(488.0 400.9) scale(0.965 1)" text-anchor="end" font-size="36.5">0.1</text>
<text transform="translate(488.0 331.3) scale(0.965 1)" text-anchor="end" font-size="36.5">0.15</text>
<text transform="translate(488.0 261.7) scale(0.965 1)" text-anchor="end" font-size="36.5">0.2</text>
<text transform="translate(488.0 192.1) scale(0.965 1)" text-anchor="end" font-size="36.5">0.25</text>
<text transform="translate(488.0 122.5) scale(0.965 1)" text-anchor="end" font-size="36.5">0.3</text>
</svg></body></html>
